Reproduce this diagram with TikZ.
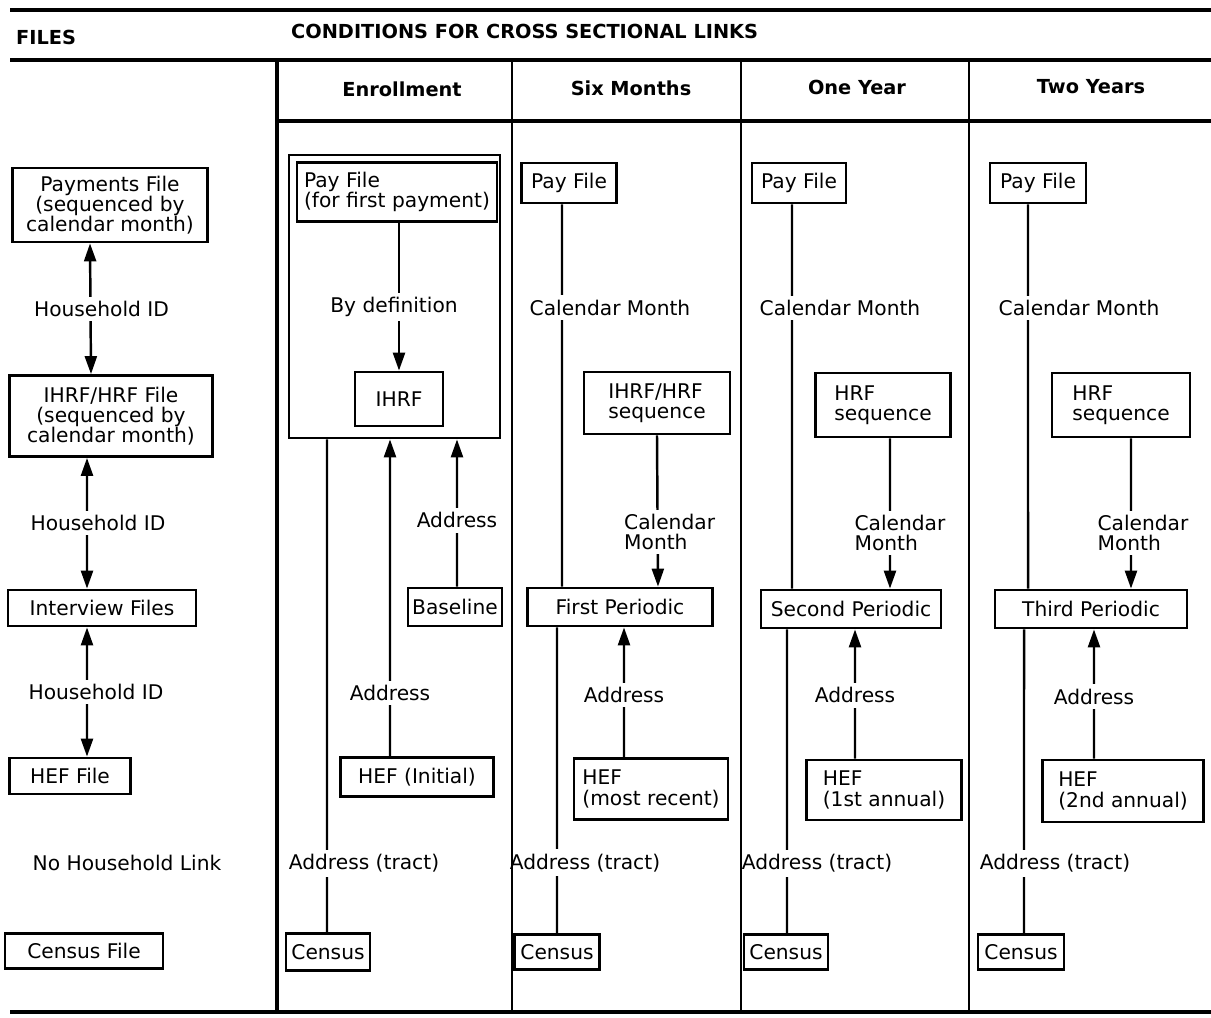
\documentclass[tikz,border=0pt]{standalone}
\usepackage{fontspec}
\setmainfont{DejaVu Sans}
\usetikzlibrary{arrows.meta, positioning, calc}
\newcommand{\B}[1]{\textbf{#1}}

\tikzset{
  bx/.style 2 args={draw, line width=1.6pt, inner sep=2pt, align=left,
    minimum width=#1cm, minimum height=#2cm},
  lbl/.style={fill=white, inner sep=2.5pt, align=left},
  link/.style={line width=1.4pt},
  arr/.style={link, -{Triangle[length=0.36cm,width=0.24cm]}},
  darr/.style={link, {Triangle[length=0.36cm,width=0.24cm]}-{Triangle[length=0.36cm,width=0.24cm]}},
  rule/.style={line width=1.8pt},
}

\begin{document}
\begin{tikzpicture}[x=0.02cm, y=-0.02cm,
    every node/.style={font=\fontsize{11.5}{11.5}\selectfont}]
    \useasboundingbox (0,0) rectangle (1211,1018);
    % Reglas horizontales
    \draw[rule] (10,10) -- (1211,10);
    \draw[rule] (10,60) -- (1211,60);
    \draw[rule] (277,121) -- (1211,121);
    \draw[rule] (10,1012) -- (1211,1012);
    \draw[line width=2.8pt] (277,60) -- (277,1012);
    % Encabezados
    \node[anchor=west, font=\fontsize{11}{11}\selectfont] (files) at (10,37) {\B{FILES}};
    \node[anchor=west, font=\fontsize{11}{11}\selectfont] (cond) at (285,31) {\B{CONDITIONS FOR CROSS SECTIONAL LINKS}};
    \node[font=\fontsize{11}{11}\selectfont] (hen) at (402,89) {\B{Enrollment}};
    \node[font=\fontsize{11}{11}\selectfont] (hsix) at (631,88) {\B{Six Months}};
    \node[font=\fontsize{11}{11}\selectfont] (hone) at (857,87) {\B{One Year}};
    \node[font=\fontsize{11}{11}\selectfont] (htwo) at (1091,87) {\B{Two Years}};

    % Columna de ficheros
    \node[bx={3.9}{1.48}, align=center] (payments) at (110,205) {Payments File\\(sequenced by\\calendar month)};
    \node[bx={4.06}{1.62}, align=center] (ihrffile) at (111,416) {IHRF/HRF File\\(sequenced by\\calendar month)};
    \node[bx={3.76}{0.72}] (interview) at (102,608) {Interview Files};
    \node[bx={2.42}{0.72}] (heffile) at (70,776) {HEF File};
    \node (nolink) at (127,863) {No Household Link};
    \node[bx={3.16}{0.7}] (censusfile) at (84,951) {Census File};
    \draw[darr] ([xshift=-0.4cm]payments.south) -- node[lbl, xshift=0.22cm] {Household ID} ([xshift=-0.4cm]ihrffile.north);
    \draw[darr] ([xshift=-0.48cm]ihrffile.south) -- node[lbl, xshift=0.22cm] {Household ID} ([xshift=-0.3cm]interview.north);
    \draw[darr] ([xshift=-0.3cm]interview.south) -- node[lbl, xshift=0.18cm] {Household ID} ([xshift=0.34cm]heffile.north);

    % Enrollment
    \node[draw, line width=1.6pt, minimum width=4.22cm, minimum height=5.66cm] (bigbox) at (394.5,296.5) {};
    \node[bx={4.0}{1.18}] (payen) at (397,192) {Pay File\\(for first payment)};
    \node[bx={1.76}{1.08}] (ihrf) at (399,399) {IHRF};
    \node[bx={1.88}{0.76}] (baseline) at (455,607) {Baseline};
    \node[bx={3.06}{0.78}] (hefen) at (417,777) {HEF (Initial)};
    \node[bx={1.68}{0.74}] (censusen) at (328,952) {Census};
    \draw[arr] (payen.south -| ihrf.north) -- node[lbl, pos=0.57, xshift=-0.1cm] {By definition} (ihrf.north);
    \draw[arr] ([xshift=0.04cm]baseline.north) -- node[lbl, pos=0.45] {Address} ([xshift=1.25cm]bigbox.south);
    \draw[arr] ([xshift=-0.54cm]hefen.north) -- node[lbl, pos=0.2] {Address} ([xshift=-0.09cm]bigbox.south);
    \draw[link] ([xshift=-0.02cm]censusen.north) -- node[lbl, pos=0.14, xshift=0.74cm] {Address (tract)} ([xshift=-1.35cm]bigbox.south);

    % Six Months
    \node[bx={1.9}{0.8}] (paysix) at (569,183) {Pay File};
    \node[bx={2.92}{1.24}] (seqsix) at (657,403) {IHRF/HRF\\sequence};
    \node[bx={3.7}{0.76}] (perone) at (620,607) {First Periodic};
    \node[bx={3.08}{1.22}] (hefsix) at (651,789) {HEF\\(most recent)};
    \node[bx={1.7}{0.7}] (censussix) at (557,952) {Census};
    \draw[link] ([xshift=-0.14cm]paysix.south) -- node[lbl, pos=0.27, xshift=0.96cm] {Calendar Month} ([xshift=-1.16cm]perone.north);
    \draw[arr] (seqsix.south) -- node[lbl, pos=0.64, xshift=0.24cm] {Calendar\\Month} ([xshift=0.76cm]perone.north);
    \draw[arr] ([xshift=-0.54cm]hefsix.north) -- node[lbl, pos=0.48] {Address} ([xshift=0.08cm]perone.south);
    \draw[link] (censussix.north) -- node[lbl, pos=0.23, xshift=0.56cm] {Address (tract)} ([xshift=-1.26cm]perone.south);

    % One Year
    \node[bx={1.88}{0.8}] (payone) at (799,183) {Pay File};
    \node[bx={2.7}{1.28}] (seqone) at (883,405) {HRF\\sequence};
    \node[bx={3.6}{0.76}] (pertwo) at (851,609) {Second Periodic};
    \node[bx={3.1}{1.2}] (hefone) at (884,790) {HEF\\(1st annual)};
    \node[bx={1.68}{0.7}] (censusone) at (786,952) {Census};
    \draw[link] ([xshift=-0.14cm]payone.south) -- node[lbl, pos=0.27, xshift=0.96cm] {Calendar Month} ([xshift=-1.18cm]pertwo.north);
    \draw[arr] ([xshift=0.14cm]seqone.south) -- node[lbl, pos=0.63, xshift=0.2cm] {Calendar\\Month} ([xshift=0.78cm]pertwo.north);
    \draw[arr] ([xshift=-0.58cm]hefone.north) -- node[lbl, pos=0.49] {Address} ([xshift=0.08cm]pertwo.south);
    \draw[link] ([xshift=0.02cm]censusone.north) -- node[lbl, pos=0.23, xshift=0.6cm] {Address (tract)} ([xshift=-1.28cm]pertwo.south);

    % Two Years
    \node[bx={1.92}{0.8}] (paytwo) at (1038,183) {Pay File};
    \node[bx={2.76}{1.28}] (seqtwo) at (1121,405) {HRF\\sequence};
    \node[bx={3.84}{0.76}] (perthree) at (1091,609) {Third Periodic};
    \node[bx={3.22}{1.24}] (heftwo) at (1123,791) {HEF\\(2nd annual)};
    \node[bx={1.72}{0.7}] (censustwo) at (1021,952) {Census};
    \draw[link] ([xshift=-0.2cm]paytwo.south) -- node[lbl, pos=0.27, xshift=1.02cm] {Calendar Month} ([xshift=-1.26cm]perthree.north);
    \draw[arr] ([xshift=0.2cm]seqtwo.south) -- node[lbl, pos=0.63, xshift=0.24cm] {Calendar\\Month} ([xshift=0.8cm]perthree.north);
    \draw[arr] ([xshift=-0.58cm]heftwo.north) -- node[lbl, pos=0.48] {Address} ([xshift=0.06cm]perthree.south);
    \draw[link] ([xshift=0.06cm]censustwo.north) -- node[lbl, pos=0.23, xshift=0.62cm] {Address (tract)} ([xshift=-1.34cm]perthree.south);

    % Separadores de columnas
    \foreach \x in {512,741,969} \draw[line width=1.1pt] (\x,60) -- (\x,1012);
\end{tikzpicture}
\end{document}
